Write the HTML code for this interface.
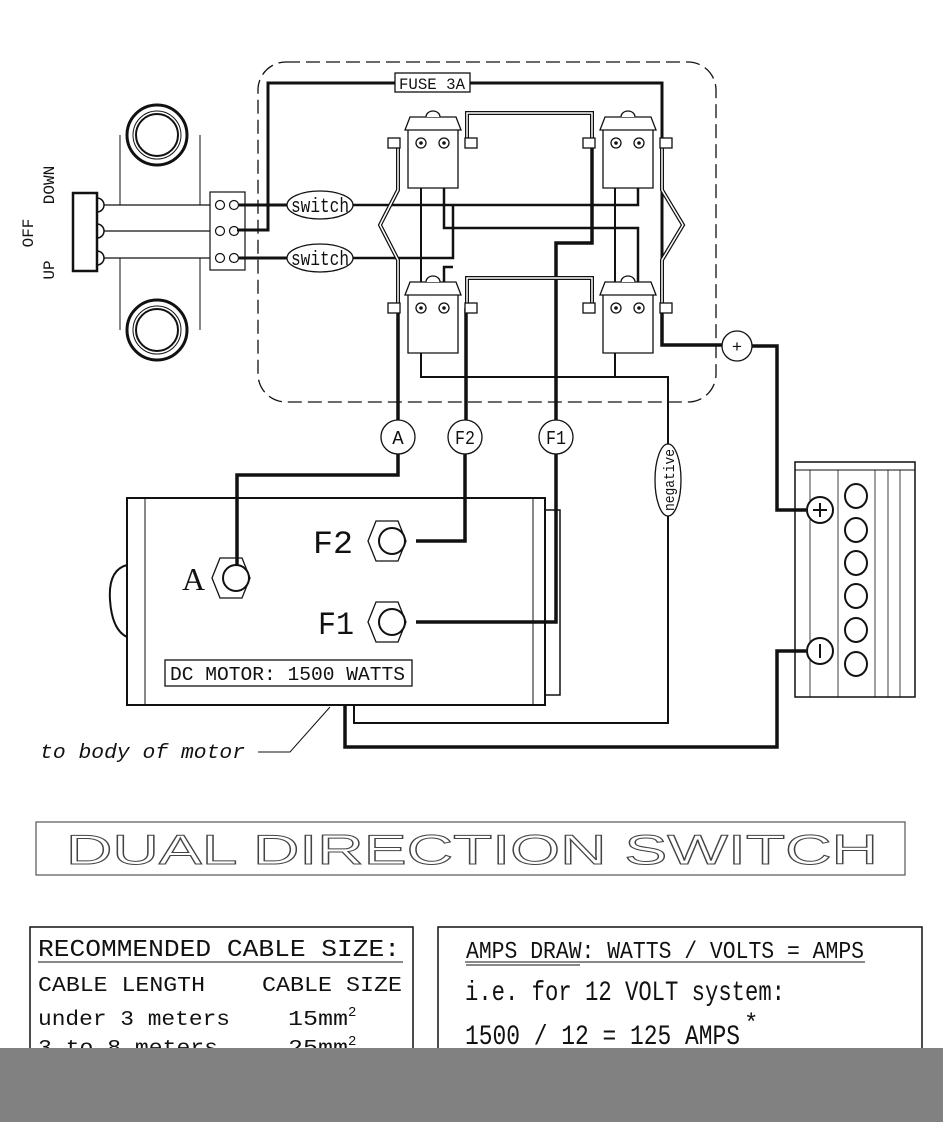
<!DOCTYPE html>
<html><head><meta charset="utf-8"><style>
html,body{margin:0;padding:0;background:#fff;width:943px;height:1122px;overflow:hidden}
svg{display:block}
text{font-family:"Liberation Mono",monospace}
</style></head><body>
<svg width="943" height="1122" viewBox="0 0 943 1122" xmlns="http://www.w3.org/2000/svg">
<g fill="none" stroke="#111">
<rect x="258" y="62" width="458" height="340" rx="28" stroke-dasharray="14,6" stroke-width="1.3"/>
<path d="M237,230 H268 V83 H662 V345 H722" stroke-width="3"/>
<circle cx="157" cy="135" r="30" stroke-width="3"/><circle cx="157" cy="135" r="24" stroke-width="1"/><circle cx="157" cy="135" r="21" stroke-width="2"/>
<circle cx="157" cy="330" r="30" stroke-width="3"/><circle cx="157" cy="330" r="24" stroke-width="1"/><circle cx="157" cy="330" r="21" stroke-width="2"/>
<path d="M120,205 V135 M200,205 V135" stroke-width="1"/>
<path d="M120,258 V330 M200,258 V330" stroke-width="1"/>
<rect x="73" y="193" width="24" height="78" stroke-width="2.5"/>
<path d="M97,198 a7,7 0 0 1 0,14 M97,224 a7,7 0 0 1 0,14 M97,251 a7,7 0 0 1 0,14" stroke-width="1.5"/>
<path d="M104,205 H210 M104,231 H210 M104,258 H210" stroke-width="1.2"/>
<rect x="210" y="192" width="35" height="78" stroke-width="1.2"/>
<g stroke-width="1.2"><circle cx="220" cy="205" r="4.5"/><circle cx="234" cy="205" r="4.5"/><circle cx="220" cy="231" r="4.5"/><circle cx="234" cy="231" r="4.5"/><circle cx="220" cy="258" r="4.5"/><circle cx="234" cy="258" r="4.5"/></g>
<path d="M239,205 H287 M239,258 H287" stroke-width="3"/>
<path d="M353,205 H638 V143" stroke-width="2.5"/>
<path d="M353,258 H453 V206 M453,267 H444 V308" stroke-width="2.5"/>
<path d="M444,143 V228 H638 V308" stroke-width="2.5"/>
<path d="M421,143 V377 H668 V450" stroke-width="2"/>
<path d="M615,143 V377" stroke-width="2"/>
<path d="M592,143 V243 H556 V420" stroke-width="3.5"/>
<path d="M398,308 V420" stroke-width="3.5"/>
<path d="M466,308 V420" stroke-width="3.5"/>
<path d="M662,308 V345 H722" stroke-width="3.5"/>
<g stroke-width="4"><path d="M467,143 V113 H592 V143"/><path d="M467,308 V278 H592 V308"/>
<path d="M398,143 V190 L380,225 L398,260 V308"/><path d="M662,143 V190 L683,225 L662,260 V308"/></g>
<g stroke="#fff" stroke-width="1.5"><path d="M467,143 V113 H592 V143"/><path d="M467,308 V278 H592 V308"/>
<path d="M398,143 V190 L380,225 L398,260 V308"/><path d="M662,143 V190 L683,225 L662,260 V308"/></g>
</g>
<g fill="#fff" stroke="#111" stroke-width="1.3">
<g id="sol">
<path d="M408,130 V188 H458 V130"/>
<path d="M405,130 L410,117 H456 L461,130 Z"/>
<path d="M426,117 a7,6 0 0 1 14,0"/>
<rect x="388" y="138" width="12" height="10"/><rect x="465" y="138" width="12" height="10"/>
<circle cx="421" cy="143" r="5"/><circle cx="444" cy="143" r="5"/>
</g>
<use href="#sol" x="195"/>
<use href="#sol" y="165"/>
<use href="#sol" x="195" y="165"/>
</g>
<g fill="#111"><circle cx="421" cy="143" r="1.8"/><circle cx="444" cy="143" r="1.8"/><circle cx="616" cy="143" r="1.8"/><circle cx="639" cy="143" r="1.8"/><circle cx="421" cy="308" r="1.8"/><circle cx="444" cy="308" r="1.8"/><circle cx="616" cy="308" r="1.8"/><circle cx="639" cy="308" r="1.8"/></g>
<g fill="#fff" stroke="#111" stroke-width="1.3">
<ellipse cx="320" cy="205" rx="33" ry="14"/><ellipse cx="320" cy="258" rx="33" ry="14"/>
<rect x="395" y="73" width="75" height="19"/>
<circle cx="398" cy="437" r="17"/><circle cx="465" cy="437" r="17"/><circle cx="556" cy="437" r="17"/>
<circle cx="737" cy="346" r="15"/>
<ellipse cx="668" cy="480" rx="13" ry="36"/>
</g>
<g style="fill:#111">
<text x="320" y="212" font-size="20" text-anchor="middle" textLength="58" lengthAdjust="spacingAndGlyphs">switch</text>
<text x="320" y="265" font-size="20" text-anchor="middle" textLength="58" lengthAdjust="spacingAndGlyphs">switch</text>
<text x="432" y="89" font-size="16" text-anchor="middle" textLength="66" lengthAdjust="spacingAndGlyphs">FUSE 3A</text>
<text x="398" y="444" font-size="19" text-anchor="middle">A</text>
<text x="465" y="444" font-size="19" text-anchor="middle" textLength="20" lengthAdjust="spacingAndGlyphs">F2</text>
<text x="556" y="444" font-size="19" text-anchor="middle" textLength="20" lengthAdjust="spacingAndGlyphs">F1</text>
<text x="737" y="352" font-size="17" text-anchor="middle">+</text>
<text transform="translate(674,480) rotate(-90)" font-size="15" text-anchor="middle" textLength="62" lengthAdjust="spacingAndGlyphs">negative</text>
<text transform="translate(33,233) rotate(-90)" font-size="16" text-anchor="middle">OFF</text>
<text transform="translate(54,185) rotate(-90)" font-size="16" text-anchor="middle">DOWN</text>
<text transform="translate(54,270) rotate(-90)" font-size="16" text-anchor="middle">UP</text>
</g>
<g fill="none" stroke="#111">
<path d="M398,454 V475 H237 V565" stroke-width="3.5"/>
<path d="M465,454 V541 H416" stroke-width="3.5"/>
<path d="M556,454 V622 H416" stroke-width="3.5"/>
<rect x="127" y="498" width="418" height="207" stroke-width="2"/>
<path d="M145,498 V705 M533,498 V705" stroke-width="1"/>
<rect x="545" y="510" width="15" height="185" stroke-width="1.5"/>
<path d="M127,565 Q108,570 110,600 Q112,630 127,637" stroke-width="2"/>
<rect x="165" y="660" width="247" height="26" stroke-width="1.3"/>
<path d="M212,578 l8,-20 h22 l8,20 l-8,20 h-22 z" stroke-width="1.3"/><circle cx="236" cy="578" r="13" stroke-width="2"/>
<path d="M368,541 l8,-20 h22 l8,20 l-8,20 h-22 z" stroke-width="1.3"/><circle cx="392" cy="541" r="13" stroke-width="2"/>
<path d="M368,622 l8,-20 h22 l8,20 l-8,20 h-22 z" stroke-width="1.3"/><circle cx="392" cy="622" r="13" stroke-width="2"/>
<path d="M668,516 V723 H354 V705" stroke-width="2"/>
<path d="M345,705 V747 H777 V651 H806" stroke-width="3.5"/>
<path d="M752,346 H777 V510 H806" stroke-width="3.5"/>
<path d="M258,752 H290 L330,707" stroke-width="1"/>
<rect x="795" y="462" width="120" height="235" stroke-width="1.5"/>
<path d="M810,470 V697 M838,470 V697 M875,470 V697 M888,470 V697 M900,470 V697" stroke-width="0.8"/>
<path d="M795,470 H915" stroke-width="1"/>
<circle cx="820" cy="510" r="13" stroke-width="2" fill="#fff"/>
<circle cx="820" cy="651" r="13" stroke-width="2" fill="#fff"/>
<g stroke-width="2" fill="#fff"><ellipse cx="856" cy="496" rx="11" ry="12"/><ellipse cx="856" cy="530" rx="11" ry="12"/><ellipse cx="856" cy="563" rx="11" ry="12"/><ellipse cx="856" cy="596" rx="11" ry="12"/><ellipse cx="856" cy="630" rx="11" ry="12"/><ellipse cx="856" cy="664" rx="11" ry="12"/></g>
<path d="M813,510 H827 M820,503 V517 M820,644 V658" stroke-width="2"/>
</g>
<g style="fill:#111">
<text x="182" y="590" font-size="32" font-family="Liberation Serif" style="font-family:'Liberation Serif',serif">A</text>
<text x="313" y="553" font-size="32" textLength="40" lengthAdjust="spacingAndGlyphs">F2</text>
<text x="318" y="634" font-size="32" textLength="36" lengthAdjust="spacingAndGlyphs">F1</text>
<text x="170" y="680" font-size="19" textLength="235" lengthAdjust="spacingAndGlyphs">DC MOTOR: 1500 WATTS</text>
<text x="40" y="758" font-size="20" font-style="italic" textLength="205" lengthAdjust="spacingAndGlyphs">to body of motor</text>
</g>
<rect x="36" y="822" width="869" height="53" fill="none" stroke="#555" stroke-width="1.2"/>
<text x="66" y="864" font-size="42" style="fill:#fff;stroke:#444;stroke-width:1;font-family:'Liberation Sans',sans-serif" textLength="812" lengthAdjust="spacingAndGlyphs">DUAL   DIRECTION   SWITCH</text>
<rect x="30" y="927" width="383" height="130" fill="none" stroke="#111" stroke-width="1.5"/>
<path d="M38,962 H403" stroke="#111"/>
<g style="fill:#111">
<text x="38" y="956" font-size="24" textLength="362" lengthAdjust="spacingAndGlyphs">RECOMMENDED CABLE SIZE:</text>
<text x="38" y="991" font-size="21" textLength="167" lengthAdjust="spacingAndGlyphs">CABLE LENGTH</text>
<text x="262" y="991" font-size="21" textLength="140" lengthAdjust="spacingAndGlyphs">CABLE SIZE</text>
<text x="38" y="1025" font-size="21" textLength="192" lengthAdjust="spacingAndGlyphs">under 3 meters</text>
<text x="288" y="1025" font-size="21" textLength="60" lengthAdjust="spacingAndGlyphs">15mm</text><text x="348" y="1016" font-size="14">2</text>
<text x="38" y="1054" font-size="21" textLength="180" lengthAdjust="spacingAndGlyphs">3 to 8 meters</text>
<text x="288" y="1054" font-size="21" textLength="60" lengthAdjust="spacingAndGlyphs">25mm</text><text x="348" y="1045" font-size="14">2</text>
</g>
<rect x="438" y="927" width="484" height="130" fill="none" stroke="#111" stroke-width="1.5"/>
<path d="M466,965 H580 M465,962 H865" stroke="#111"/>
<g style="fill:#111">
<text x="466" y="958" font-size="24" textLength="398" lengthAdjust="spacingAndGlyphs">AMPS DRAW:  WATTS / VOLTS = AMPS</text>
<text x="465" y="1000" font-size="28" textLength="320" lengthAdjust="spacingAndGlyphs">i.e. for 12 VOLT system:</text>
<text x="465" y="1044" font-size="28" textLength="275" lengthAdjust="spacingAndGlyphs">1500 / 12 = 125 AMPS</text>
<text x="744" y="1030" font-size="24">*</text>
</g>
<rect x="0" y="1048" width="943" height="74" fill="#818181"/>
</svg>
</body></html>
